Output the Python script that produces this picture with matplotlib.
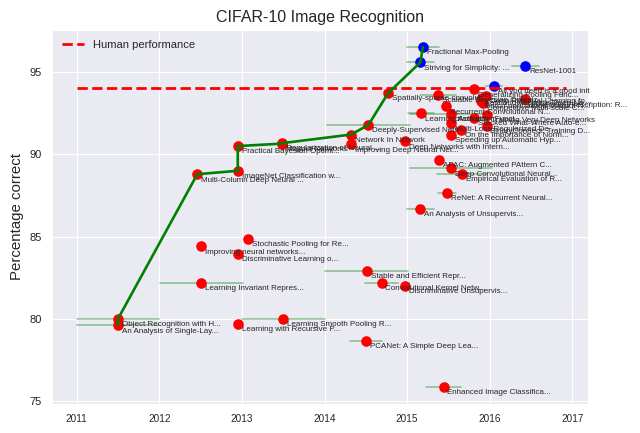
import matplotlib
matplotlib.use("Agg")
import matplotlib.pyplot as plt
import seaborn as sns
import numpy as np

# ---- data -------------------------------------------------------------
labels = [
    "Object Recognition with H...",
    "An Analysis of Single-Lay...",
    "Multi-Column Deep Neural ...",
    "ImageNet Classification w...",
    "Practical Bayesian Optimi...",
    "Learning with Recursive P...",
    "Discriminative Learning o...",
    "Improving neural networks...",
    "Learning Invariant Repres...",
    "Stochastic Pooling for Re...",
    "Regularization of Neural ...",
    "Maxout Networks",
    "Learning Smooth Pooling R...",
    "Network In Network",
    "Improving Deep Neural Net...",
    "Deeply-Supervised Nets",
    "PCANet: A Simple Deep Lea...",
    "Stable and Efficient Repr...",
    "Convolutional Kernel Netw...",
    "Discriminative Unsupervis...",
    "Spatially-sparse convolut...",
    "Deep Networks with Intern...",
    "Striving for Simplicity: ...",
    "Fractional Max-Pooling",
    "An Analysis of Unsupervis...",
    "Learning Activation Funct...",
    "Scalable Bayesian Optimiz...",
    "APAC: Augmented PAttern C...",
    "Enhanced Image Classifica...",
    "Recurrent Convolutional N...",
    "ReNet: A Recurrent Neural...",
    "Deep Convolutional Neural...",
    "cifar.torch",
    "Multi-Loss Regularized De...",
    "Speeding up Automatic Hyp...",
    "Empirical Evaluation of R...",
    "On the Importance of Norm...",
    "Generalizing Pooling Func...",
    "Stacked What-Where Auto-e...",
    "Competitive Multi-scale C...",
    "Batch-normalized Maxout N...",
    "Fast and Accurate Deep Ne...",
    "Deep Residual Learning fo...",
    "Training Very Deep Networks",
    "BinaryConnect: Training D...",
    "All you need is a good init",
    "Universum Prescription: R...",
    "ResNet-1001",
]
dates = [
    2011.50, 2011.50, 2012.46, 2012.95, 2012.95, 2012.95, 2012.95, 2012.51,
    2012.51, 2013.07, 2013.49, 2013.49, 2013.50, 2014.32, 2014.32, 2014.53,
    2014.50, 2014.51, 2014.69, 2014.97, 2014.77, 2014.97, 2015.16, 2015.19,
    2015.16, 2015.17, 2015.37, 2015.39, 2015.44, 2015.47, 2015.48, 2015.53,
    2015.53, 2015.53, 2015.53, 2015.66, 2015.65, 2015.81, 2015.81, 2015.92,
    2015.89, 2015.90, 2015.95, 2015.97, 2015.96, 2016.05, 2016.42, 2016.43,
]
date_err = [
    0.50, 0.50, 0.00, 0.00, 0.00, 0.00, 0.00, 0.00,
    0.50, 0.00, 0.00, 0.00, 0.50, 0.00, 0.00, 0.50,
    0.19, 0.50, 0.20, 0.00, 0.00, 0.00, 0.16, 0.19,
    0.16, 0.16, 0.22, 0.00, 0.21, 0.00, 0.11, 0.50,
    0.50, 0.00, 0.00, 0.30, 0.00, 0.00, 0.00, 0.00,
    0.00, 0.00, 0.00, 0.00, 0.00, 0.10, 0.00, 0.16,
]
accuracy = [
    80.00, 79.60, 88.79, 89.00, 90.50, 79.70, 83.96, 84.40,
    82.20, 84.87, 90.68, 90.65, 80.02, 91.20, 90.61, 91.78,
    78.67, 82.90, 82.18, 82.00, 93.72, 90.78, 95.59, 96.53,
    86.70, 92.49, 93.63, 89.67, 75.86, 92.91, 87.65, 89.14,
    92.45, 91.88, 91.19, 88.80, 91.48, 93.95, 92.23, 93.13,
    93.25, 93.45, 93.57, 92.40, 91.73, 94.16, 93.34, 95.38,
]
human_performance = 94.0
human_span = [2011.0, 2016.92]
year_ticks = [2011, 2012, 2013, 2014, 2015, 2016, 2017]
acc_ticks = [75, 80, 85, 90, 95]

# ---- style ------------------------------------------------------------
sns.set_style("darkgrid")
plt.rcParams["font.family"] = ["Liberation Sans", "DejaVu Sans"]

fig = plt.figure(figsize=(6.4, 4.33), dpi=100)
ax = fig.add_axes([0.081, 0.067, 0.838, 0.864])

d = np.array(dates)
a = np.array(accuracy)
e = np.array(date_err)

# date uncertainty bars
for x, y, xe in zip(d, a, e):
    if xe > 0:
        ax.plot([x - xe, x + xe], [y, y], color="green", alpha=0.4, lw=1.2, zorder=2)

# points
above = a > human_performance
ax.plot(d[~above], a[~above], "o", color="red", ms=6.6, mec="red", zorder=3, linestyle="none")
ax.plot(d[above], a[above], "o", color="blue", ms=6.6, mec="blue", zorder=3, linestyle="none")

# state-of-the-art frontier
order = np.lexsort((a, d))
fx, fy, best = [], [], -np.inf
for i in order:
    if a[i] > best:
        best = a[i]
        fx.append(d[i])
        fy.append(a[i])
ax.plot(fx, fy, color="green", lw=1.9, zorder=4)

# human performance
ax.plot(human_span, [human_performance, human_performance], "--", color="red",
        lw=2, zorder=3, label="Human performance")

# annotations
for x, y, t in zip(d, a, labels):
    ax.annotate(t, (x, y), xytext=(2.8, -4.2), textcoords="offset points",
                fontsize=5.8, va="center", ha="left", color="#262626", zorder=5)

ax.set_xlim(2010.70, 2017.19)
ax.set_ylim(74.83, 97.56)
ax.set_xticks(year_ticks)
ax.set_xticklabels([str(y) for y in year_ticks])
ax.set_yticks(acc_ticks)
ax.tick_params(axis="x", labelsize=7.2)
ax.tick_params(axis="y", labelsize=8)
ax.set_ylabel("Percentage correct", fontsize=10.8)
ax.set_title("CIFAR-10 Image Recognition", fontsize=11.5)
ax.legend(loc="upper left", fontsize=8, frameon=False)

fig.savefig("out.png", dpi=100)
